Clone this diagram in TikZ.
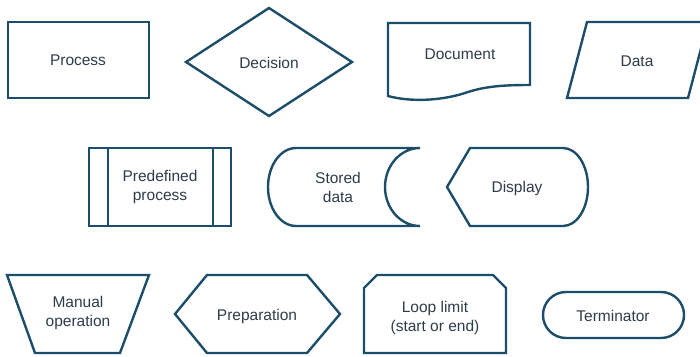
\documentclass[tikz,border=0pt]{standalone}
\usepackage{fontspec}
\setmainfont{Liberation Sans}
\definecolor{edge}{HTML}{1C4E6A}
\definecolor{ink}{HTML}{2E3B4B}
\tikzset{
  shapeline/.style={draw=edge, line width=2.4pt, line join=miter},
  label/.style={text=ink, font=\fontsize{15.5}{19}\selectfont, align=center, inner sep=0pt}
}
\begin{document}
\begin{tikzpicture}[x=1pt, y=1pt]
\useasboundingbox (0,0) rectangle (700,-356);
% --- top row ---
% process
\draw[shapeline] (8,-22) rectangle (149,-98);
\node[label] (process) at (78,-60) {Process};
% decision
\draw[shapeline] (186,-62) -- (269,-8) -- (352,-62) -- (269,-116) -- cycle;
\node[label] (decision) at (269,-63) {Decision};
% document with wavy bottom
\draw[shapeline] (388,-96) -- (388,-23) -- (530,-23) -- (530,-85)
  .. controls (505,-85) and (485,-86) .. (465,-93)
  .. controls (440,-101) and (410,-102) .. (388,-96) -- cycle;
\node[label] (document) at (460,-54) {Document};
% data (parallelogram)
\draw[shapeline] (567,-98) -- (587,-22) -- (708,-22) -- (688,-98) -- cycle;
\node[label] (data) at (637,-61) {Data};
% --- middle row ---
% predefined process
\draw[shapeline] (89,-148) rectangle (231,-226);
\draw[shapeline] (108,-148) -- (108,-226);
\draw[shapeline] (213,-148) -- (213,-226);
\node[label] (predef) at (160,-187) {Predefined\\process};
% stored data
\draw[shapeline] (296,-148) arc[start angle=90, end angle=270, x radius=28, y radius=39]
  -- (420,-226) arc[start angle=270, end angle=90, x radius=35, y radius=39] -- cycle;
\node[label] (stored) at (338,-187) {Stored\\data};
% display
\draw[shapeline] (447,-187) -- (470,-148) -- (563,-148)
  arc[start angle=90, end angle=-90, x radius=25, y radius=39] -- (470,-226) -- cycle;
\node[label] (display) at (517,-188) {Display};
% --- bottom row ---
% manual operation
\draw[shapeline] (7,-275) -- (149,-275) -- (120,-353) -- (35,-353) -- cycle;
\node[label] (manual) at (78,-313) {Manual\\operation};
% preparation
\draw[shapeline] (175,-314) -- (207,-275) -- (307,-275) -- (340,-314) -- (307,-353) -- (207,-353) -- cycle;
\node[label] (prep) at (257,-316) {Preparation};
% loop limit
\draw[shapeline] (364,-353) -- (364,-288) -- (377,-275) -- (493,-275) -- (506,-288) -- (506,-353) -- cycle;
\node[label] (loop) at (435,-318) {Loop limit\\(start or end)};
% terminator
\draw[shapeline, rounded corners=22.9pt] (543,-292) rectangle (684,-338);
\node[label] (term) at (613,-316) {Terminator};
\end{tikzpicture}
\end{document}
